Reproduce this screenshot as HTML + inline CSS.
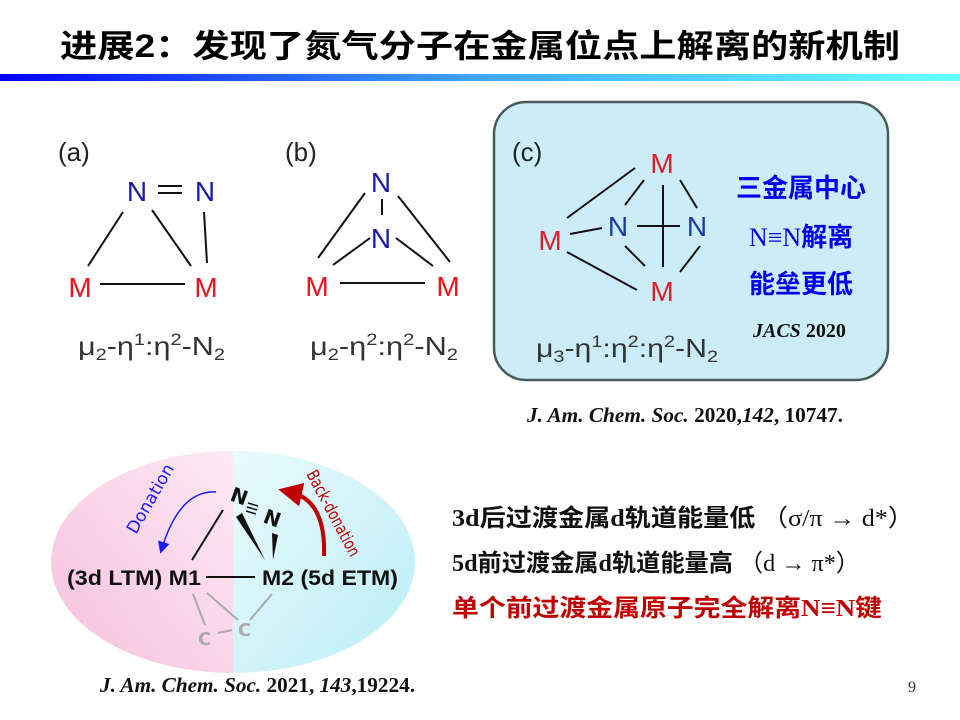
<!DOCTYPE html>
<html><head><meta charset="utf-8"><style>
html,body{margin:0;padding:0;background:#fff;}
svg{display:block;}
.cjk{font-family:"Liberation Serif","Noto Sans CJK SC",serif;font-weight:bold;}
.sans{font-family:"Liberation Sans","DejaVu Sans",sans-serif;}
</style></head><body>
<svg width="960" height="720" viewBox="0 0 960 720" xmlns="http://www.w3.org/2000/svg">
<defs>
<linearGradient id="bar" x1="0" x2="1" y1="0" y2="0"><stop offset="0" stop-color="#0000ff"/><stop offset="0.5" stop-color="#40a8ff"/><stop offset="1" stop-color="#66ffff"/></linearGradient>
<linearGradient id="pink" x1="0" x2="1" y1="1" y2="0"><stop offset="0" stop-color="#f7bfdc"/><stop offset="1" stop-color="#fdeaf4"/></linearGradient>
<linearGradient id="cyan" x1="0" x2="1" y1="0" y2="1"><stop offset="0" stop-color="#eafbfd"/><stop offset="1" stop-color="#b8ecf6"/></linearGradient>
<clipPath id="ell"><ellipse cx="233" cy="562" rx="182" ry="111"/></clipPath>
<marker id="ab" markerWidth="8" markerHeight="8" refX="4" refY="4" orient="auto"><path d="M0,0 L8,4 L0,8 z" fill="#1a1aff"/></marker>
<marker id="ar" markerWidth="6" markerHeight="6" refX="3" refY="3" orient="auto"><path d="M0,0 L6,3 L0,6 z" fill="#c00000"/></marker>
</defs>
<text x="480" y="57" text-anchor="middle" font-family="'Liberation Sans','Noto Sans CJK SC',sans-serif" font-weight="bold" font-size="32" fill="#000" textLength="840" lengthAdjust="spacingAndGlyphs">进展2：发现了氮气分子在金属位点上解离的新机制</text>
<rect x="0" y="74" width="960" height="7" fill="url(#bar)"/>

<!-- (a) -->
<g class="sans" font-size="28">
<text x="58" y="161" fill="#222" font-size="26">(a)</text>
<text x="137" y="201" fill="#1a1aa8" text-anchor="middle">N</text>
<text x="205" y="201" fill="#1a1aa8" text-anchor="middle">N</text>
<text x="80" y="297" fill="#e8141e" text-anchor="middle">M</text>
<text x="206" y="297" fill="#e8141e" text-anchor="middle">M</text>
</g>
<g stroke="#111" stroke-width="2">
<line x1="158" y1="186" x2="182" y2="186"/><line x1="158" y1="193" x2="182" y2="193"/>
<line x1="123" y1="212" x2="88" y2="266"/><line x1="152" y1="210" x2="191" y2="266"/>
<line x1="204" y1="212" x2="207" y2="263"/><line x1="100" y1="284" x2="185" y2="284"/>
</g>
<text x="78" y="355" class="sans" font-size="26" fill="#333" textLength="147" lengthAdjust="spacingAndGlyphs">μ<tspan font-size="17" dy="5">2</tspan><tspan dy="-5">-η</tspan><tspan font-size="17" dy="-10">1</tspan><tspan dy="10">:η</tspan><tspan font-size="17" dy="-10">2</tspan><tspan dy="10">-N</tspan><tspan font-size="17" dy="5">2</tspan></text>

<!-- (b) -->
<g class="sans" font-size="28">
<text x="285" y="161" fill="#222" font-size="26">(b)</text>
<text x="381" y="192" fill="#1a1aa8" text-anchor="middle">N</text>
<text x="381" y="248" fill="#1a1aa8" text-anchor="middle">N</text>
<text x="317" y="296" fill="#e8141e" text-anchor="middle">M</text>
<text x="448" y="296" fill="#e8141e" text-anchor="middle">M</text>
</g>
<g stroke="#111" stroke-width="2">
<line x1="365" y1="193" x2="318" y2="258"/><line x1="370" y1="238" x2="333" y2="265"/>
<line x1="382" y1="199" x2="382" y2="215"/><line x1="398" y1="196" x2="450" y2="262"/>
<line x1="396" y1="238" x2="433" y2="266"/><line x1="340" y1="283" x2="425" y2="283"/>
</g>
<text x="310" y="355" class="sans" font-size="26" fill="#333" textLength="148" lengthAdjust="spacingAndGlyphs">μ<tspan font-size="17" dy="5">2</tspan><tspan dy="-5">-η</tspan><tspan font-size="17" dy="-10">2</tspan><tspan dy="10">:η</tspan><tspan font-size="17" dy="-10">2</tspan><tspan dy="10">-N</tspan><tspan font-size="17" dy="5">2</tspan></text>

<!-- (c) -->
<rect x="494" y="102" width="394" height="278" rx="32" fill="#ccedf8" stroke="#4a5a5a" stroke-width="2.5"/>
<g class="sans" font-size="28">
<text x="512" y="161" fill="#222" font-size="26">(c)</text>
<text x="662" y="173" fill="#d9202a" text-anchor="middle">M</text>
<text x="550" y="250" fill="#d9202a" text-anchor="middle">M</text>
<text x="618" y="236" fill="#1a3aa8" text-anchor="middle">N</text>
<text x="697" y="236" fill="#1a3aa8" text-anchor="middle">N</text>
<text x="662" y="301" fill="#d9202a" text-anchor="middle">M</text>
</g>
<g stroke="#111" stroke-width="2">
<line x1="635" y1="168" x2="567" y2="218"/><line x1="570" y1="234" x2="602" y2="228"/>
<line x1="567" y1="252" x2="637" y2="290"/><line x1="644" y1="180" x2="625" y2="205"/>
<line x1="680" y1="180" x2="697" y2="208"/><line x1="625" y1="246" x2="645" y2="266"/>
<line x1="700" y1="246" x2="680" y2="272"/><line x1="663" y1="185" x2="663" y2="267"/>
<line x1="637" y1="226" x2="680" y2="226"/>
</g>
<text x="536" y="357" class="sans" font-size="26" fill="#333" textLength="182" lengthAdjust="spacingAndGlyphs">μ<tspan font-size="17" dy="5">3</tspan><tspan dy="-5">-η</tspan><tspan font-size="17" dy="-10">1</tspan><tspan dy="10">:η</tspan><tspan font-size="17" dy="-10">2</tspan><tspan dy="10">:η</tspan><tspan font-size="17" dy="-10">2</tspan><tspan dy="10">-N</tspan><tspan font-size="17" dy="5">2</tspan></text>
<g class="cjk" fill="#0000ee" font-size="26" text-anchor="middle">
<text x="801" y="197">三金属中心</text>
<text x="801" y="246"><tspan font-weight="normal">N≡N</tspan>解离</text>
<text x="801" y="293">能垒更低</text>
</g>
<text x="753" y="337" font-family="'Liberation Serif',serif" font-weight="bold" font-size="20" fill="#111"><tspan font-style="italic">JACS</tspan> 2020</text>
<text x="527" y="422" font-family="'Liberation Serif',serif" font-weight="bold" font-size="21" fill="#111" textLength="316" lengthAdjust="spacingAndGlyphs"><tspan font-style="italic">J. Am. Chem. Soc.</tspan> 2020,<tspan font-style="italic">142</tspan>, 10747.</text>

<!-- ellipse -->
<g clip-path="url(#ell)">
<rect x="40" y="440" width="193" height="240" fill="url(#pink)"/>
<rect x="233" y="440" width="200" height="240" fill="url(#cyan)"/>
</g>
<g font-family="'Liberation Sans','DejaVu Sans',sans-serif" font-weight="bold" font-size="21" fill="#111">
<text x="67" y="585" textLength="134" lengthAdjust="spacingAndGlyphs">(3d LTM) M1</text>
<text x="262" y="585" textLength="136" lengthAdjust="spacingAndGlyphs">M2 (5d ETM)</text>
</g>
<line x1="206" y1="577" x2="255" y2="577" stroke="#111" stroke-width="2"/>
<text x="229" y="500" font-family="'DejaVu Sans',sans-serif" font-weight="bold" font-size="20" fill="#111" transform="rotate(20 229 500)">N</text>
<text x="262" y="522" font-family="'DejaVu Sans',sans-serif" font-weight="bold" font-size="20" fill="#111" transform="rotate(20 262 522)">N</text>
<g stroke="#111" stroke-width="1.5"><line x1="248" y1="503" x2="258" y2="506"/><line x1="247" y1="507" x2="257" y2="510"/><line x1="246" y1="511" x2="256" y2="514"/></g>
<line x1="223" y1="510" x2="192" y2="560" stroke="#111" stroke-width="2"/>
<polygon points="236,517 242,513 265,560" fill="#111"/>
<polygon points="272,533 278,535 273,560" fill="#111"/>
<g stroke="#aaa" stroke-width="2"><line x1="193" y1="594" x2="205" y2="625"/><line x1="207" y1="593" x2="238" y2="620"/><line x1="272" y1="594" x2="250" y2="620"/><line x1="218" y1="633" x2="232" y2="630"/></g>
<g font-family="'DejaVu Sans',sans-serif" font-weight="bold" font-size="18" fill="#aaa"><text x="198" y="645">C</text><text x="238" y="636">C</text></g>
<path d="M216,492 Q180,490 162,548" fill="none" stroke="#1a1aff" stroke-width="1.5" marker-end="url(#ab)"/>
<text x="136" y="535" font-family="'DejaVu Sans',sans-serif" font-size="17" fill="#1a1aff" transform="rotate(-60 136 535)">Donation</text>
<path d="M324,556 Q326,500 290,492" fill="none" stroke="#c00000" stroke-width="4" marker-end="url(#ar)"/>
<text x="306" y="474" font-family="'DejaVu Sans',sans-serif" font-size="17" fill="#c00000" transform="rotate(62 306 474)" textLength="95" lengthAdjust="spacingAndGlyphs">Back-donation</text>

<!-- right text -->
<g class="cjk" font-size="24">
<text x="452" y="526" fill="#111" textLength="462" lengthAdjust="spacingAndGlyphs">3d后过渡金属d轨道能量低 <tspan font-weight="normal">（σ/π → d*）</tspan></text>
<text x="452" y="571" fill="#111" textLength="408" lengthAdjust="spacingAndGlyphs">5d前过渡金属d轨道能量高 <tspan font-weight="normal">（d → π*）</tspan></text>
<text x="452" y="616" fill="#c00000" textLength="430" lengthAdjust="spacingAndGlyphs">单个前过渡金属原子完全解离N≡N键</text>
</g>
<text x="100" y="692" font-family="'Liberation Serif',serif" font-weight="bold" font-size="21" fill="#111" textLength="315" lengthAdjust="spacingAndGlyphs"><tspan font-style="italic">J. Am. Chem. Soc.</tspan> 2021, <tspan font-style="italic">143</tspan>,19224.</text>
<text x="908" y="692" font-family="'Liberation Serif',serif" font-size="16" fill="#333">9</text>
</svg>
</body></html>
